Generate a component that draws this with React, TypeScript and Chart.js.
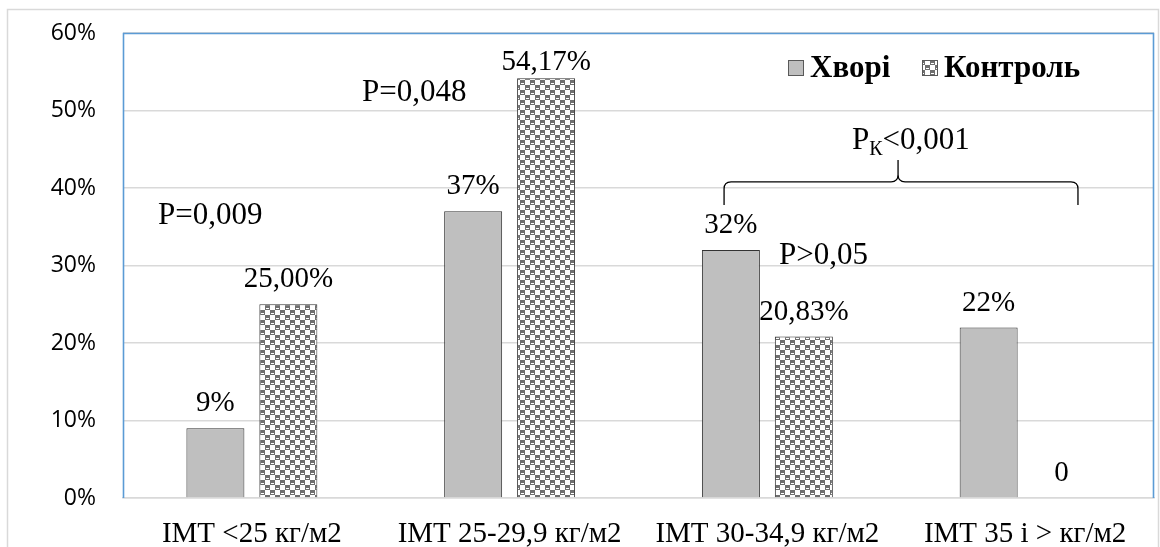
import React, { useEffect, useRef } from "react";
import { Chart, registerables } from "chart.js";

Chart.register(...registerables);

// ---- data ----
const categories = ["IMT <25 кг/м2", "IMT 25-29,9 кг/м2", "IMT 30-34,9 кг/м2", "IMT 35 і > кг/м2"];
const seriesNames = ["Хворі", "Контроль"];
const patientsValues = [9, 37, 32, 22];
const controlValues = [25.0, 54.17, 20.83, 0];
const yTickValues = [0, 10, 20, 30, 40, 50, 60];

// significance notes: [text, x in category units, y in %]
const pNotes: [string, number, number][] = [
  ["P=0,009", -0.364, 35.3],
  ["P=0,048", 0.427, 51.2],
  ["P>0,05", 2.045, 30.2],
];
const groupNoteMain = "P";
const groupNoteSub = "К";
const groupNoteRest = "<0,001";
// brace over the last two groups: left, middle, right (category units); heights in %
const braceX = [1.832, 2.507, 3.205];
const braceY = { ends: 37.8, line: 40.8, peak: 43.6 };
const groupNotePos: [number, number] = [2.328, 45.0];

const SERIF = '"Liberation Serif", "Times New Roman", serif';
const SANS = '"Open Sans", Lato, "Liberation Sans", sans-serif';

const patientsLabel = (v: number) => `${v}%`;
const controlLabel = (v: number) => (v === 0 ? "0" : v.toFixed(2).replace(".", ",") + "%");

function makeChecker(): CanvasPattern | string {
  const c = document.createElement("canvas");
  c.width = 10;
  c.height = 10;
  const g = c.getContext("2d");
  if (!g) return "#999";
  g.fillStyle = "#ffffff";
  g.fillRect(0, 0, 10, 10);
  g.fillStyle = "#6f6f6f";
  g.fillRect(0, 0, 5, 5);
  g.fillRect(5, 5, 5, 5);
  g.fillStyle = "#ffffff";
  g.fillRect(1, 3, 3, 1);
  g.fillRect(6, 8, 3, 1);
  const p = g.createPattern(c, "repeat");
  return p || "#999";
}

export default function App() {
  const ref = useRef<HTMLCanvasElement | null>(null);

  useEffect(() => {
    if (!ref.current) return;
    const checker = makeChecker();

    const xAt = (chart: any, u: number) => {
      const xs = chart.scales.x;
      return xs.getPixelForDecimal((u + 0.5) / categories.length);
    };
    const yAt = (chart: any, v: number) => chart.scales.y.getPixelForValue(v);

    const framePlugin = {
      id: "frame",
      beforeDraw(chart: any) {
        const ctx = chart.ctx;
        ctx.save();
        ctx.strokeStyle = "#d9d9d9";
        ctx.lineWidth = 1.5;
        ctx.beginPath();
        ctx.moveTo(7.5, 547);
        ctx.lineTo(7.5, 9.5);
        ctx.lineTo(1158.5, 9.5);
        ctx.lineTo(1158.5, 547);
        ctx.stroke();
        ctx.restore();
      },
      afterDatasetsDraw(chart: any) {
        const { left, top, right, bottom } = chart.chartArea;
        const ctx = chart.ctx;
        ctx.save();
        ctx.strokeStyle = "#5b9bd5";
        ctx.lineWidth = 1.6;
        ctx.beginPath();
        ctx.moveTo(left + 0.5, bottom);
        ctx.lineTo(left + 0.5, top + 0.5);
        ctx.lineTo(right - 0.5, top + 0.5);
        ctx.lineTo(right - 0.5, bottom);
        ctx.stroke();
        ctx.restore();
      },
    };

    // value labels above bars, kept clear of the plot's top edge
    const valueLabels = {
      id: "valueLabels",
      afterDatasetsDraw(chart: any) {
        const ctx = chart.ctx;
        const minBase = chart.chartArea.top + 37;
        ctx.save();
        ctx.fillStyle = "#000";
        ctx.font = `29px ${SERIF}`;
        ctx.textAlign = "center";
        ctx.textBaseline = "alphabetic";
        chart.data.datasets.forEach((ds: any, di: number) => {
          const meta = chart.getDatasetMeta(di);
          meta.data.forEach((el: any, i: number) => {
            const v = ds.data[i];
            const txt = di === 0 ? patientsLabel(v) : controlLabel(v);
            ctx.fillText(txt, el.x, Math.max(el.y - 17, minBase));
          });
        });
        ctx.restore();
      },
    };

    const notes = {
      id: "notes",
      afterDraw(chart: any) {
        const ctx = chart.ctx;
        ctx.save();
        ctx.fillStyle = "#000";
        ctx.textAlign = "left";
        ctx.textBaseline = "alphabetic";
        ctx.font = `31px ${SERIF}`;
        pNotes.forEach(([t, u, v]) => ctx.fillText(t, xAt(chart, u), yAt(chart, v)));

        // P with subscript
        let x = xAt(chart, groupNotePos[0]);
        const y = yAt(chart, groupNotePos[1]);
        ctx.fillText(groupNoteMain, x, y);
        x += ctx.measureText(groupNoteMain).width;
        ctx.font = `20px ${SERIF}`;
        ctx.fillText(groupNoteSub, x, y + 6);
        x += ctx.measureText(groupNoteSub).width;
        ctx.font = `31px ${SERIF}`;
        ctx.fillText(groupNoteRest, x, y);

        // curly brace
        const xl = xAt(chart, braceX[0]);
        const xm = xAt(chart, braceX[1]);
        const xr = xAt(chart, braceX[2]);
        const ye = yAt(chart, braceY.ends);
        const yl = yAt(chart, braceY.line);
        const yp = yAt(chart, braceY.peak);
        const r = 7;
        ctx.strokeStyle = "#000";
        ctx.lineWidth = 1.3;
        ctx.beginPath();
        ctx.moveTo(xl, ye);
        ctx.lineTo(xl, yl + r);
        ctx.quadraticCurveTo(xl, yl, xl + r, yl);
        ctx.lineTo(xm - r, yl);
        ctx.quadraticCurveTo(xm, yl, xm, yl - r);
        ctx.lineTo(xm, yp);
        ctx.moveTo(xm, yl - r);
        ctx.quadraticCurveTo(xm, yl, xm + r, yl);
        ctx.lineTo(xr - r, yl);
        ctx.quadraticCurveTo(xr, yl, xr, yl + r);
        ctx.lineTo(xr, ye);
        ctx.stroke();
        ctx.restore();
      },
    };

    const legendBox = {
      id: "legendBox",
      afterDraw(chart: any) {
        const ctx = chart.ctx;
        const { right, top } = chart.chartArea;
        ctx.save();
        ctx.font = `bold 31px ${SERIF}`;
        ctx.textBaseline = "alphabetic";
        ctx.textAlign = "left";
        const baseY = top + 44;
        const fills = [chart.data.datasets[0].backgroundColor, chart.data.datasets[1].backgroundColor];
        const startXs = [right - 366, right - 232];
        seriesNames.forEach((name, i) => {
          const bx = startXs[i];
          ctx.fillStyle = fills[i];
          ctx.fillRect(bx, baseY - 17, 16, 16);
          ctx.strokeStyle = "#595959";
          ctx.lineWidth = 1;
          ctx.strokeRect(bx + 0.5, baseY - 16.5, 15, 15);
          ctx.fillStyle = "#000";
          ctx.fillText(name, bx + 22, baseY);
        });
        ctx.restore();
      },
    };

    const chart = new Chart(ref.current, {
      type: "bar",
      data: {
        labels: categories,
        datasets: [
          {
            label: seriesNames[0],
            data: patientsValues,
            backgroundColor: "#bfbfbf",
            borderColor: "#333333",
            borderWidth: 1,
            categoryPercentage: 0.566,
            barPercentage: 0.795,
          },
          {
            label: seriesNames[1],
            data: controlValues,
            backgroundColor: checker as any,
            borderColor: "#333333",
            borderWidth: 1,
            categoryPercentage: 0.566,
            barPercentage: 0.795,
          },
        ],
      },
      options: {
        responsive: false,
        animation: false,
        events: [],
        layout: { padding: { left: 0, top: 33, right: 6, bottom: 0 } },
        plugins: { legend: { display: false }, tooltip: { enabled: false }, title: { display: false } },
        scales: {
          x: {
            grid: { display: false },
            border: { display: true, color: "#d9d9d9", width: 1.5 },
            ticks: {
              font: { family: SERIF, size: 29 },
              color: "#000",
              padding: 11,
              maxRotation: 0,
              autoSkip: false,
            },
            afterFit: (s: any) => {
              s.height = 49;
              s.paddingLeft = 0;
              s.paddingRight = 0;
            },
          },
          y: {
            min: 0,
            max: 60,
            afterBuildTicks: (s: any) => {
              s.ticks = yTickValues.map((v) => ({ value: v }));
            },
            ticks: {
              callback: (v: any) => `${v}%`,
              font: { family: SANS, size: 23 },
              color: "#000",
              padding: 27,
            },
            grid: { color: "#d9d9d9", lineWidth: 1.5, drawTicks: false },
            border: { display: false },
            afterFit: (s: any) => {
              s.width = 123;
              s.paddingTop = 0;
              s.paddingBottom = 0;
            },
          },
        },
      },
      plugins: [framePlugin, valueLabels, notes, legendBox],
    });

    return () => chart.destroy();
  }, []);

  return (
    <div style={{ position: "absolute", left: 0, top: 0, width: 1160, height: 547, background: "#fff" }}>
      <canvas ref={ref} width={1160} height={547} style={{ display: "block" }} />
    </div>
  );
}
